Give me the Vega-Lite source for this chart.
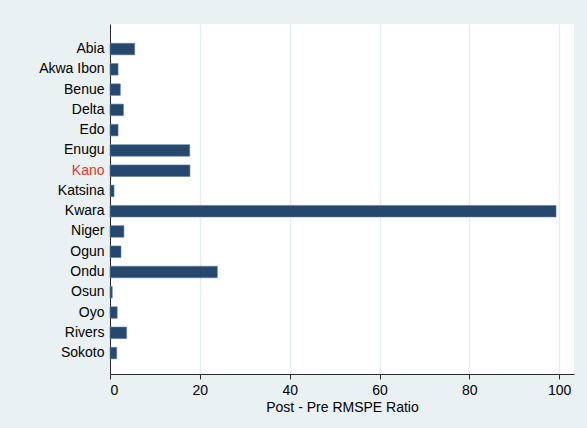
{
  "$schema": "https://vega.github.io/schema/vega-lite/v6.json",
  "width": 464,
  "height": 350,
  "autosize": {"type": "none"},
  "padding": {"left": 110, "top": 24, "right": 13, "bottom": 54},
  "background": "#eaf1f3",
  "config": {
    "view": {"fill": "white", "stroke": null},
    "font": "Liberation Sans",
    "axis": {
      "labelFont": "Liberation Sans",
      "titleFont": "Liberation Sans",
      "labelFontSize": 14,
      "titleFontSize": 14,
      "titleFontWeight": "normal",
      "labelColor": "#000000",
      "titleColor": "#000000",
      "domainColor": "#2b2b2b",
      "tickColor": "#2b2b2b"
    }
  },
  "data": {
    "values": [
      {"state": "Abia", "ratio": 5.5},
      {"state": "Akwa Ibon", "ratio": 1.8},
      {"state": "Benue", "ratio": 2.3},
      {"state": "Delta", "ratio": 3.0},
      {"state": "Edo", "ratio": 1.8},
      {"state": "Enugu", "ratio": 17.75},
      {"state": "Kano", "ratio": 17.8},
      {"state": "Katsina", "ratio": 0.9},
      {"state": "Kwara", "ratio": 99.3},
      {"state": "Niger", "ratio": 3.1},
      {"state": "Ogun", "ratio": 2.45},
      {"state": "Ondu", "ratio": 23.9},
      {"state": "Osun", "ratio": 0.5},
      {"state": "Oyo", "ratio": 1.6},
      {"state": "Rivers", "ratio": 3.7},
      {"state": "Sokoto", "ratio": 1.5}
    ]
  },
  "mark": {"type": "bar", "color": "#26476e", "stroke": "#5f7d9c", "strokeWidth": 0.6},
  "encoding": {
    "y": {
      "field": "state",
      "type": "nominal",
      "sort": null,
      "scale": {"paddingInner": 0.43, "paddingOuter": 0.85, "align": 0.56},
      "axis": {
        "title": null,
        "ticks": false,
        "labelPadding": 6,
        "grid": false,
        "labelColor": {
          "condition": {"test": "datum.value === 'Kano'", "value": "#e5352b"},
          "value": "#000000"
        }
      }
    },
    "x": {
      "field": "ratio",
      "type": "quantitative",
      "scale": {"domain": [0, 103.3], "nice": false},
      "axis": {
        "title": "Post - Pre RMSPE Ratio",
        "values": [0, 20, 40, 60, 80, 100],
        "grid": true,
        "gridColor": "#e6eef1",
        "gridWidth": 1.5,
        "tickSize": 5,
        "labelPadding": 4,
        "titlePadding": 3
      }
    }
  }
}
